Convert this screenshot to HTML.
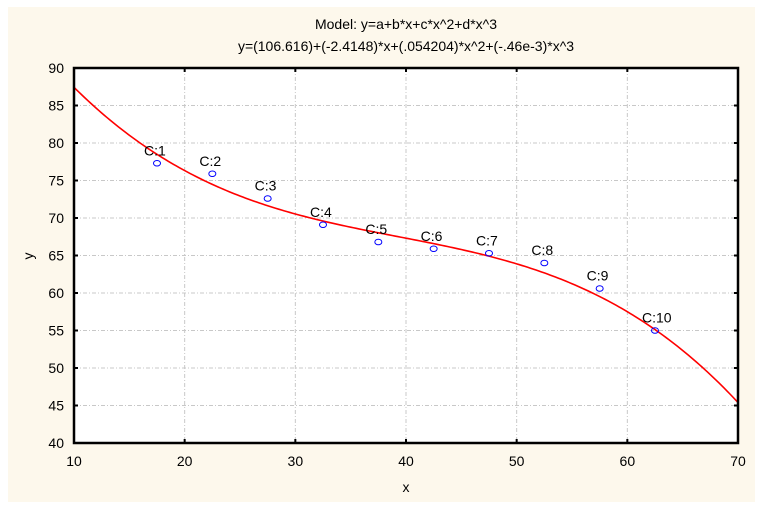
<!DOCTYPE html>
<html><head><meta charset="utf-8"><style>
html,body{margin:0;padding:0;background:#fff;}
svg{display:block;font-family:"Liberation Sans",Arial,sans-serif;}
</style></head><body>
<svg id="s" width="759" height="506" viewBox="0 0 759 506" xmlns="http://www.w3.org/2000/svg">
<rect x="8" y="7" width="747" height="495" fill="#fdf8ec"/>
<rect x="74" y="68" width="664" height="375" fill="#fff"/>
<g id="grid" stroke="#c8c8c8" stroke-width="1" stroke-dasharray="4,2,1,2"></g>
<path id="curve" fill="none" stroke="#ff0000" stroke-width="1.6"/>
<g id="pts" fill="none" stroke="#0000ff" stroke-width="1"></g>
<g id="lbl" font-size="14" fill="#000"></g>
<rect x="74" y="68" width="664" height="375" fill="none" stroke="#000" stroke-width="2.5"/>
<g id="ticks" font-size="14" fill="#000"></g>
<text x="406" y="29" font-size="14" text-anchor="middle">Model: y=a+b*x+c*x^2+d*x^3</text>
<text x="406" y="51" font-size="14" text-anchor="middle">y=(106.616)+(-2.4148)*x+(.054204)*x^2+(-.46e-3)*x^3</text>
<text x="406" y="492" font-size="14" text-anchor="middle">x</text>
<text x="33" y="256" font-size="14" text-anchor="middle" transform="rotate(-90 33 256)">y</text>
</svg>
<script>
var NS="http://www.w3.org/2000/svg";
function X(v){return 74+(v-10)*664/60;}
function Y(v){return 68+(90-v)*375/50;}
function el(t,a,p,txt){var e=document.createElementNS(NS,t);for(var k in a)e.setAttribute(k,a[k]);if(txt!==undefined)e.textContent=txt;document.getElementById(p).appendChild(e);return e;}
for(var x=20;x<70;x+=10){el("line",{x1:X(x),x2:X(x),y1:68,y2:443},"grid");}
for(var y=45;y<90;y+=5){el("line",{x1:74,x2:738,y1:Y(y),y2:Y(y)},"grid");}
for(var x=10;x<=70;x+=10){el("text",{x:X(x),y:466,"text-anchor":"middle"},"ticks",x);
 el("line",{x1:X(x),x2:X(x),y1:443,y2:439,stroke:"#000","stroke-width":2},"ticks");
 el("line",{x1:X(x),x2:X(x),y1:68,y2:72,stroke:"#000","stroke-width":2},"ticks");}
for(var y=40;y<=90;y+=5){el("text",{x:64,y:Y(y)+5,"text-anchor":"end"},"ticks",y);
 el("line",{x1:74,x2:78,y1:Y(y),y2:Y(y),stroke:"#000","stroke-width":2},"ticks");
 el("line",{x1:734,x2:738,y1:Y(y),y2:Y(y),stroke:"#000","stroke-width":2},"ticks");}
var d="";for(var x=10;x<=70.001;x+=0.25){var y=106.616-2.4148*x+0.054204*x*x-0.00046*x*x*x;d+=(x==10?"M":"L")+X(x).toFixed(2)+" "+Y(y).toFixed(2);}
document.getElementById("curve").setAttribute("d",d);
var P=[[17.5,77.3],[22.5,75.9],[27.5,72.6],[32.5,69.1],[37.5,66.8],[42.5,65.9],[47.5,65.3],[52.5,64.0],[57.5,60.6],[62.5,55.0]];
P.forEach(function(p,i){var cx=X(p[0]),cy=Y(p[1]);el("ellipse",{cx:cx,cy:cy,rx:3.5,ry:2.8},"pts");
 el("text",{x:cx-13,y:cy-8},"lbl","C:"+(i+1));});
</script>
</body></html>
